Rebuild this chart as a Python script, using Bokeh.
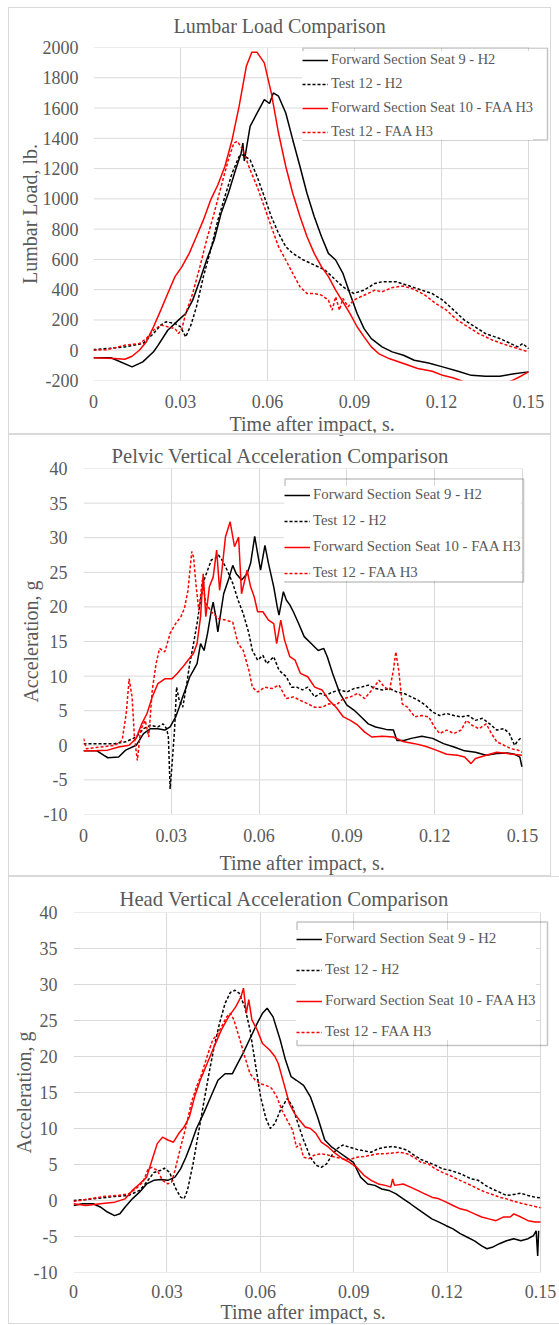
from bokeh.plotting import figure
from bokeh.models import Range1d, FixedTicker, Legend, LegendItem, Title, Div, BoxAnnotation
from bokeh.layouts import column
from bokeh.embed import file_html
from bokeh.resources import INLINE

FONT = "Liberation Serif"
TXT = "#595959"
GRID = "#d9d9d9"

# ---------------- data ----------------
series_names = ["Forward Section Seat 9 - H2", "Test 12 - H2",
                "Forward Section Seat 10 - FAA H3", "Test 12 - FAA H3"]
series_colors = ["#000000", "#000000", "#ff0000", "#ff0000"]
series_dash = ["solid", "3 2", "solid", "3 2"]

x_ticks = [0, 0.03, 0.06, 0.09, 0.12, 0.15]
x_tick_labels = ["0", "0.03", "0.06", "0.09", "0.12", "0.15"]
lumbar_ticks = [-200, 0, 200, 400, 600, 800, 1000, 1200, 1400, 1600, 1800, 2000]
accel_ticks = [-10, -5, 0, 5, 10, 15, 20, 25, 30, 35, 40]

# Lumbar load (lb.)
lumbar_fs9_h2 = [(0, -50), (0.006, -50), (0.0133, -110), (0.017, -77), (0.0207, -10), (0.0222, 30),
    (0.0256, 132), (0.0293, 199), (0.0318, 243), (0.0342, 331), (0.0367, 464), (0.039, 596),
    (0.0416, 728), (0.044, 905), (0.0465, 1037), (0.049, 1192), (0.0509, 1302), (0.0515, 1369),
    (0.052, 1250), (0.054, 1479), (0.0564, 1567), (0.0589, 1656), (0.0607, 1630), (0.062, 1700),
    (0.0638, 1678), (0.0663, 1567), (0.0687, 1391), (0.0712, 1214), (0.0736, 1037), (0.0761, 883),
    (0.0786, 751), (0.081, 640), (0.0835, 596), (0.086, 508), (0.0884, 375), (0.0909, 243),
    (0.0933, 143), (0.0958, 77), (0.0995, 22), (0.103, -11), (0.1069, -33), (0.1106, -66),
    (0.1155, -84), (0.1204, -110), (0.1254, -137), (0.1303, -166), (0.1352, -172), (0.1401, -172),
    (0.1451, -155), (0.15, -143)]
lumbar_t12_h2 = [(0, 4), (0.0047, 11), (0.0108, 22), (0.017, 44), (0.0207, 110), (0.0232, 166),
    (0.025, 188), (0.028, 177), (0.03, 155), (0.0318, 88), (0.0336, 166), (0.0355, 287),
    (0.0379, 486), (0.0404, 662), (0.0429, 861), (0.0453, 1015), (0.0478, 1170), (0.0502, 1280),
    (0.0515, 1291), (0.054, 1258), (0.0564, 1148), (0.0589, 1015), (0.0613, 883), (0.0638, 773),
    (0.0663, 684), (0.0687, 640), (0.0724, 596), (0.0761, 563), (0.0798, 530), (0.0835, 464),
    (0.086, 419), (0.0897, 375), (0.0933, 397), (0.097, 441), (0.0995, 452), (0.1044, 452),
    (0.1081, 430), (0.1131, 397), (0.1167, 375), (0.1204, 331), (0.1242, 265), (0.1279, 199),
    (0.1315, 155), (0.1352, 110), (0.1401, 77), (0.1438, 44), (0.1463, 22), (0.148, 44), (0.15, 11)]
lumbar_fs10_h3 = [(0, -50), (0.0071, -55), (0.0108, -60), (0.0133, -40), (0.0158, 0), (0.0182, 55),
    (0.0207, 155), (0.0232, 265), (0.0256, 375), (0.0281, 486), (0.0305, 552), (0.033, 640),
    (0.0355, 751), (0.0379, 861), (0.0404, 993), (0.0429, 1093), (0.0453, 1214), (0.0478, 1391),
    (0.0502, 1611), (0.0527, 1876), (0.0546, 1968), (0.0564, 1968), (0.0589, 1898), (0.0613, 1700),
    (0.0638, 1435), (0.0663, 1214), (0.0687, 1037), (0.0712, 883), (0.0736, 751), (0.0761, 640),
    (0.0786, 552), (0.081, 486), (0.0835, 397), (0.086, 320), (0.0884, 243), (0.0909, 155),
    (0.0933, 88), (0.0958, 22), (0.0983, -22), (0.1019, -55), (0.1069, -88), (0.1118, -121),
    (0.1168, -139), (0.1204, -166), (0.1242, -183), (0.1279, -210), (0.132, -230), (0.136, -245),
    (0.14, -235), (0.1445, -199), (0.1475, -170), (0.15, -143)]
lumbar_t12_h3 = [(0, 0), (0.0047, 4), (0.0108, 33), (0.0158, 44), (0.0182, 77), (0.0207, 132),
    (0.0232, 166), (0.0256, 155), (0.0281, 143), (0.0293, 110), (0.0305, 143), (0.0318, 243),
    (0.0342, 375), (0.0367, 552), (0.039, 728), (0.0416, 905), (0.044, 1082), (0.0465, 1258),
    (0.0484, 1369), (0.0496, 1380), (0.0515, 1324), (0.054, 1192), (0.0564, 1082), (0.0589, 949),
    (0.0613, 817), (0.0638, 684), (0.0663, 596), (0.0687, 508), (0.0712, 419), (0.0736, 375),
    (0.0761, 375), (0.0786, 364), (0.081, 331), (0.0823, 265), (0.0835, 353), (0.0848, 265),
    (0.086, 342), (0.0878, 287), (0.0897, 331), (0.0921, 353), (0.0946, 375), (0.097, 397),
    (0.0995, 386), (0.1032, 415), (0.1069, 424), (0.1106, 402), (0.1143, 364), (0.118, 309),
    (0.1217, 265), (0.1254, 199), (0.1291, 155), (0.1328, 110), (0.1377, 66), (0.1426, 33),
    (0.1463, 11), (0.15, -11)]

# Pelvic vertical acceleration (g)
pelvic_fs9_h2 = [(0, -0.8), (0.0046, -0.8), (0.007, -1.45), (0.0083, -1.8), (0.012, -1.7),
    (0.0144, -0.7), (0.018, 0), (0.0205, 1.7), (0.0229, 2.4), (0.0254, 2.4), (0.0278, 2.2),
    (0.0296, 2.65), (0.0315, 4.1), (0.0327, 5.5), (0.0339, 7.0), (0.0351, 8.4), (0.0363, 9.9),
    (0.0376, 10.85), (0.0388, 11.8), (0.04, 14.7), (0.0412, 13.7), (0.0424, 16.2), (0.0437, 19.5),
    (0.0443, 20.7), (0.0452, 18.6), (0.0459, 16.4), (0.0467, 18.6), (0.0479, 21.9), (0.0498, 24.3),
    (0.051, 26.0), (0.0522, 24.8), (0.054, 23.9), (0.0559, 24.8), (0.0571, 26.3), (0.0585, 30.2),
    (0.0595, 27.7), (0.0605, 25.3), (0.062, 28.9), (0.0632, 26.3), (0.065, 22.9), (0.0662, 20.0),
    (0.0668, 18.8), (0.0683, 22.2), (0.0693, 21.0), (0.0705, 20.3), (0.0717, 19.3), (0.0735, 17.6),
    (0.0754, 15.7), (0.0778, 14.7), (0.0802, 13.7), (0.0821, 14.0), (0.0833, 12.8), (0.0851, 10.4),
    (0.0876, 7.5), (0.09, 5.8), (0.0924, 5.1), (0.0949, 4.1), (0.0973, 3.1), (0.0998, 2.65),
    (0.1034, 2.3), (0.1059, 2.2), (0.1071, 0.7), (0.1095, 0.7), (0.112, 1.0), (0.1156, 1.3),
    (0.1193, 1.0), (0.123, 0.24), (0.1266, -0.24), (0.1302, -0.8), (0.1339, -1.0), (0.1376, -1.45),
    (0.1412, -1.2), (0.1449, -1.1), (0.1473, -1.3), (0.1491, -1.7), (0.1498, -3.1)]
pelvic_t12_h2 = [(0, 0.24), (0.0059, 0.24), (0.0107, 0.24), (0.0144, 0.5), (0.018, 1.2),
    (0.0205, 2.4), (0.0229, 2.9), (0.0254, 2.65), (0.0272, 3.1), (0.0284, 2.4), (0.029, 1.2),
    (0.0296, -6.3), (0.0302, -3.1), (0.0311, 2.2), (0.0318, 8.4), (0.0327, 6.5), (0.0339, 5.5),
    (0.0351, 8.4), (0.0363, 11.8), (0.0376, 14.7), (0.0388, 17.6), (0.04, 21.0), (0.0412, 23.9),
    (0.0424, 25.3), (0.0437, 26.8), (0.0449, 27.0), (0.0461, 27.5), (0.0473, 26.8), (0.0491, 25.3),
    (0.051, 23.4), (0.0528, 21.0), (0.0546, 19.0), (0.0565, 16.2), (0.0577, 13.7), (0.0595, 12.3),
    (0.0613, 13.0), (0.0626, 11.8), (0.065, 12.8), (0.0668, 10.85), (0.0693, 9.9), (0.0711, 8.4),
    (0.0729, 8.4), (0.0748, 8.0), (0.0766, 8.4), (0.079, 7.0), (0.0809, 7.5), (0.0827, 7.2),
    (0.0851, 7.7), (0.0876, 8.0), (0.09, 7.7), (0.0924, 8.2), (0.0949, 8.4), (0.0973, 8.7),
    (0.0998, 8.2), (0.1022, 8.0), (0.1046, 8.2), (0.1071, 7.7), (0.1095, 7.5), (0.112, 7.0),
    (0.1144, 6.5), (0.1168, 5.8), (0.1193, 4.8), (0.1217, 4.3), (0.1241, 4.6), (0.1266, 4.3),
    (0.129, 4.1), (0.1315, 4.3), (0.1339, 3.6), (0.1363, 3.9), (0.1388, 3.1), (0.1412, 2.2),
    (0.1437, 2.4), (0.1455, 1.7), (0.1473, 0), (0.1485, 0.7), (0.1498, 1.2)]
pelvic_fs10_h3 = [(0, -0.8), (0.0034, -0.8), (0.0083, -0.7), (0.012, -0.24), (0.0156, 0),
    (0.018, 1.0), (0.0199, 3.1), (0.0217, 4.6), (0.0235, 7.0), (0.0254, 8.9), (0.0278, 9.6),
    (0.0302, 9.6), (0.0321, 10.4), (0.0339, 11.3), (0.0357, 12.3), (0.0376, 13.3), (0.0388, 14.7),
    (0.04, 18.6), (0.0409, 24.8), (0.0418, 18.6), (0.043, 22.9), (0.0443, 24.3), (0.0455, 28.2),
    (0.0465, 22.4), (0.0473, 25.3), (0.0485, 30.1), (0.0501, 32.3), (0.0516, 28.7), (0.053, 30.1),
    (0.054, 21.9), (0.0559, 25.3), (0.0571, 22.9), (0.0583, 21.5), (0.0595, 19.3), (0.0613, 19.3),
    (0.0632, 18.1), (0.065, 17.6), (0.066, 14.7), (0.0674, 18.1), (0.0687, 15.2), (0.0705, 12.8),
    (0.0723, 12.3), (0.0741, 10.4), (0.0766, 9.9), (0.079, 8.4), (0.0815, 8.0), (0.0839, 6.5),
    (0.0863, 5.5), (0.0888, 4.1), (0.0912, 3.6), (0.0937, 2.9), (0.0961, 1.9), (0.0985, 1.2),
    (0.1022, 1.3), (0.1059, 1.2), (0.1095, 0.5), (0.1132, 0.24), (0.1168, -0.14), (0.1205, -0.7),
    (0.1241, -1.3), (0.1278, -1.45), (0.1302, -1.7), (0.1324, -2.65), (0.1339, -1.9),
    (0.1376, -1.45), (0.1412, -1.0), (0.1449, -1.2), (0.1498, -1.45)]
pelvic_t12_h3 = [(0, 1.0), (0.001, -0.5), (0.0059, -0.24), (0.0107, 0), (0.0132, 0.7),
    (0.0146, 4.6), (0.0156, 9.6), (0.0166, 7.0), (0.0174, 1.2), (0.0184, -2.2), (0.0195, 2.2),
    (0.0211, 3.6), (0.0223, 1.2), (0.0235, 8.0), (0.0248, 11.8), (0.026, 14.0), (0.0278, 13.5),
    (0.0296, 16.2), (0.0315, 17.6), (0.0333, 18.6), (0.0345, 19.8), (0.0357, 22.4), (0.037, 28.0),
    (0.0376, 27.2), (0.0385, 22.9), (0.0394, 19.5), (0.0406, 23.9), (0.0418, 20.5), (0.0437, 19.3),
    (0.0461, 18.3), (0.0485, 18.1), (0.051, 17.8), (0.0528, 14.7), (0.0546, 13.7), (0.0565, 10.85),
    (0.0577, 8.4), (0.0595, 7.7), (0.062, 8.4), (0.0644, 8.2), (0.0668, 8.7), (0.0693, 6.75),
    (0.0717, 7.0), (0.0741, 6.5), (0.0766, 6.0), (0.079, 5.5), (0.0815, 5.5), (0.0839, 6.0),
    (0.0863, 5.8), (0.0888, 6.75), (0.0912, 7.0), (0.0937, 7.5), (0.0961, 6.75), (0.0985, 8.0),
    (0.101, 9.4), (0.1028, 8.4), (0.1046, 8.0), (0.1059, 10.85), (0.1067, 13.5), (0.1077, 10.85),
    (0.1089, 6.0), (0.1107, 5.5), (0.1132, 4.1), (0.1156, 4.3), (0.118, 4.1), (0.1199, 2.65),
    (0.1217, 1.7), (0.1241, 2.2), (0.1266, 1.7), (0.129, 2.2), (0.1309, 3.6), (0.1327, 2.9),
    (0.1351, 2.4), (0.1376, 3.1), (0.1394, 1.7), (0.1412, 0.5), (0.1437, 0), (0.1461, -0.5),
    (0.1485, -0.7), (0.1498, -1.0)]

# Head vertical acceleration (g)
head_fs9_h2 = [(0, -0.7), (0.0029, -0.45), (0.0063, -0.45), (0.0086, -0.9), (0.0109, -1.6),
    (0.0132, -2.1), (0.0149, -1.85), (0.0166, -0.9), (0.0189, 0.23), (0.0212, 1.16), (0.0235, 2.3),
    (0.0258, 2.8), (0.0281, 2.9), (0.0303, 2.8), (0.0326, 3.25), (0.0344, 4.4), (0.0361, 6.0),
    (0.0378, 7.9), (0.0395, 10.0), (0.0418, 12.1), (0.0441, 14.4), (0.0464, 16.7), (0.0487, 17.6),
    (0.051, 17.6), (0.0527, 19.0), (0.0544, 20.4), (0.0567, 22.5), (0.059, 24.6), (0.0607, 26.0),
    (0.0622, 26.7), (0.0641, 25.5), (0.0664, 22.3), (0.0681, 19.5), (0.0699, 17.2), (0.0716, 16.7),
    (0.0739, 16.0), (0.0761, 14.4), (0.0784, 11.6), (0.0807, 8.4), (0.083, 7.4), (0.0853, 6.7),
    (0.0876, 6.0), (0.0899, 5.3), (0.0922, 3.25), (0.0945, 2.3), (0.0968, 2.1), (0.099, 1.6),
    (0.1013, 1.4), (0.1036, 0.93), (0.1059, 0.23), (0.1082, -0.45), (0.1105, -1.16), (0.1128, -1.85),
    (0.1151, -2.55), (0.1174, -3.0), (0.1197, -3.5), (0.1219, -3.95), (0.1242, -4.6), (0.1265, -5.1),
    (0.1288, -5.6), (0.1311, -6.3), (0.1328, -6.7), (0.1345, -6.5), (0.1368, -6.0), (0.1391, -5.6),
    (0.1414, -5.3), (0.1437, -5.6), (0.146, -5.3), (0.1477, -4.9), (0.1486, -4.2), (0.1491, -7.7),
    (0.1494, -4.2)]
head_t12_h2 = [(0, 0), (0.0063, 0.23), (0.0132, 0.56), (0.0177, 0.7), (0.0212, 1.4), (0.0235, 2.55),
    (0.0258, 3.9), (0.0281, 4.2), (0.0292, 4.5), (0.0309, 3.9), (0.0326, 1.86), (0.0344, 0.46),
    (0.0355, 0.23), (0.0366, 1.4), (0.0384, 5.1), (0.0401, 9.3), (0.0418, 13.5), (0.0435, 17.6),
    (0.0452, 21.4), (0.0469, 24.6), (0.0487, 27.4), (0.0504, 28.9), (0.0519, 29.2), (0.0532, 28.8),
    (0.055, 26.9), (0.0567, 23.7), (0.0584, 19.0), (0.0601, 14.4), (0.0618, 11.4), (0.0632, 10.0),
    (0.0647, 10.7), (0.0664, 12.5), (0.0687, 14.2), (0.0704, 13.0), (0.0721, 10.7), (0.0739, 8.4),
    (0.0761, 6.0), (0.0779, 4.9), (0.0796, 4.6), (0.0813, 5.1), (0.083, 6.3), (0.0847, 7.2),
    (0.0865, 7.7), (0.0887, 7.4), (0.091, 7.1), (0.0933, 6.9), (0.0956, 6.7), (0.0979, 7.2),
    (0.1002, 7.4), (0.1025, 7.5), (0.1048, 7.3), (0.1071, 7.0), (0.1094, 6.3), (0.1116, 5.7),
    (0.1139, 5.3), (0.1162, 4.9), (0.1185, 4.4), (0.1208, 4.2), (0.1231, 3.9), (0.1254, 3.5),
    (0.1277, 3.0), (0.13, 2.8), (0.1323, 2.1), (0.1345, 1.6), (0.1368, 1.16), (0.1391, 0.7),
    (0.1414, 0.84), (0.1437, 1.0), (0.146, 0.7), (0.1483, 0.46), (0.15, 0.37)]
head_fs10_h3 = [(0, -0.45), (0.004, -0.7), (0.0086, -0.45), (0.0132, -0.23), (0.0166, 0.23),
    (0.0189, 1.4), (0.0212, 2.3), (0.0235, 3.25), (0.0252, 5.6), (0.0269, 7.9), (0.0286, 8.8),
    (0.0303, 8.4), (0.0321, 8.1), (0.0338, 9.3), (0.0355, 10.2), (0.0372, 11.6), (0.0389, 14.4),
    (0.0407, 16.7), (0.0429, 19.0), (0.0452, 21.4), (0.0475, 23.7), (0.0498, 25.5), (0.0521, 26.9),
    (0.0538, 28.3), (0.0546, 29.5), (0.0555, 26.0), (0.0563, 27.9), (0.0573, 25.1), (0.059, 23.7),
    (0.0607, 21.8), (0.063, 20.9), (0.0647, 20.0), (0.0658, 19.0), (0.0676, 16.2), (0.0693, 13.5),
    (0.071, 12.1), (0.0727, 11.1), (0.0744, 10.2), (0.0761, 10.0), (0.0779, 9.3), (0.0796, 8.1),
    (0.0819, 7.4), (0.0842, 6.5), (0.0865, 5.8), (0.0887, 5.3), (0.091, 4.6), (0.0933, 3.5),
    (0.0956, 2.8), (0.0979, 2.3), (0.1002, 2.1), (0.1019, 1.86), (0.1025, 3.0), (0.1031, 2.1),
    (0.1059, 2.3), (0.1082, 1.86), (0.1105, 1.4), (0.1128, 0.93), (0.1151, 0.46), (0.1174, 0.23),
    (0.1197, -0.23), (0.1219, -0.7), (0.1242, -1.16), (0.1265, -1.4), (0.1288, -1.86), (0.1311, -2.3),
    (0.1334, -2.55), (0.1357, -2.8), (0.138, -2.3), (0.1403, -2.3), (0.1414, -1.86), (0.1437, -2.3),
    (0.146, -2.8), (0.1483, -3.0), (0.15, -3.0)]
head_t12_h3 = [(0, -0.14), (0.0052, 0.23), (0.0097, 0.56), (0.0143, 0.7), (0.0177, 0.93), (0.02, 1.6),
    (0.0223, 2.55), (0.024, 4.4), (0.0252, 4.6), (0.0269, 4.2), (0.0286, 2.8), (0.0303, 2.3),
    (0.0315, 2.55), (0.0326, 4.2), (0.0344, 7.4), (0.0361, 10.2), (0.0378, 13.5), (0.0395, 15.8),
    (0.0412, 17.6), (0.0429, 20.0), (0.0447, 22.3), (0.0464, 23.2), (0.0475, 24.1), (0.0492, 25.5),
    (0.0504, 26.0), (0.0515, 25.1), (0.0532, 22.7), (0.055, 20.0), (0.0567, 17.6), (0.0584, 16.7),
    (0.0601, 16.2), (0.0618, 16.0), (0.0636, 15.6), (0.0653, 14.4), (0.067, 12.5), (0.0687, 11.1),
    (0.0704, 9.75), (0.0716, 7.4), (0.0727, 7.9), (0.0739, 6.0), (0.0756, 5.8), (0.0773, 6.3),
    (0.0796, 6.5), (0.0819, 6.3), (0.0842, 6.0), (0.0865, 5.8), (0.0887, 5.7), (0.091, 6.0),
    (0.0933, 6.1), (0.0956, 6.3), (0.0979, 6.5), (0.1002, 6.5), (0.1025, 6.6), (0.1048, 6.7),
    (0.1071, 6.5), (0.1094, 6.0), (0.1116, 5.3), (0.1139, 5.1), (0.1162, 4.4), (0.1185, 3.9),
    (0.1208, 3.5), (0.1231, 3.0), (0.1254, 2.55), (0.1277, 2.1), (0.13, 1.6), (0.1323, 1.16),
    (0.1345, 0.84), (0.1368, 0.46), (0.1391, 0.23), (0.1414, -0.1), (0.1437, -0.37), (0.146, -0.6),
    (0.1483, -0.84), (0.15, -1.0)]


def make_panel(title, ylabel, yticks, series, cfg):
    p = figure(width=559, height=cfg["height"], output_backend="svg", toolbar_location=None,
               x_range=Range1d(0, cfg["xend"]), y_range=Range1d(yticks[0], yticks[-1]),
               min_border_left=cfg["bl"], min_border_right=cfg["br"],
               min_border_top=cfg["bt"], min_border_bottom=cfg["bb"])
    p.frame_align = False
    p.background_fill_color = "white"
    p.border_fill_color = "white"
    p.outline_line_color = None

    p.title.text = title
    p.title.text_font = FONT
    p.title.text_font_size = cfg["tfs"]
    p.title.text_font_style = "normal"
    p.title.text_color = TXT
    p.title.align = "left"
    p.title.offset = cfg["toff"]
    p.title.standoff = cfg["tstand"]

    p.xaxis.ticker = FixedTicker(ticks=x_ticks)
    p.xaxis.major_label_overrides = {t: s for t, s in zip(x_ticks, x_tick_labels)}
    p.yaxis.ticker = FixedTicker(ticks=yticks)
    p.yaxis.major_label_overrides = {t: str(t) for t in yticks}
    p.xgrid.ticker = FixedTicker(ticks=x_ticks)
    p.xgrid.grid_line_color = GRID
    p.xgrid.grid_line_width = 1
    p.ygrid.visible = False
    # horizontal gridlines limited to the plot area (0 .. 0.15)
    p.segment(x0=[x_ticks[0]] * len(yticks), y0=yticks, x1=[x_ticks[-1]] * len(yticks), y1=yticks,
              line_color=GRID, line_width=1)

    p.yaxis.axis_label = ylabel
    for ax in (p.xaxis, p.yaxis):
        ax.axis_line_color = None
        ax.major_tick_line_color = None
        ax.minor_tick_line_color = None
        ax.major_tick_out = 0
        ax.major_tick_in = 0
        ax.major_label_text_font = FONT
        ax.major_label_text_font_size = "18px"
        ax.major_label_text_color = TXT
        ax.axis_label_text_font = FONT
        ax.axis_label_text_font_size = "20px"
        ax.axis_label_text_font_style = "normal"
        ax.axis_label_text_color = TXT
    p.xaxis.major_label_standoff = cfg["xls"]
    p.yaxis.major_label_standoff = cfg["yls"]
    p.yaxis.axis_label_standoff = cfg["yas"]

    xt = Title(text="Time after impact, s.", text_font=FONT, text_font_size="20px",
               text_font_style="normal", text_color=TXT, align="left",
               offset=cfg["xtoff"], standoff=cfg["xtstand"])
    p.add_layout(xt, "below")

    items = []
    for name, pts, col, dash in zip(series_names, series, series_colors, series_dash):
        xs = [a for a, b in pts]
        ys = [b for a, b in pts]
        r = p.line(xs, ys, line_color=col, line_width=1.5, line_dash=dash)
        items.append(LegendItem(label=name, renderers=[r]))

    leg = Legend(items=items, location=cfg["lloc"], orientation="vertical",
                 border_line_color=None,
                 background_fill_color="white", background_fill_alpha=1.0,
                 label_text_font=FONT, label_text_font_size=cfg["lfs"], label_text_color=TXT,
                 glyph_width=26, glyph_height=16, label_height=16, label_standoff=3,
                 padding=cfg["lpad"], spacing=cfg["lsp"], margin=0)
    p.add_layout(leg, "center")

    # legend frame (canvas pixels)
    l, t, r_, b = cfg["lbox"]
    p.add_layout(BoxAnnotation(left=l, right=r_, top=t, bottom=b,
                               left_units="canvas", right_units="canvas",
                               top_units="canvas", bottom_units="canvas",
                               fill_color=None, fill_alpha=0,
                               line_color="#404040", line_width=1.5))
    return p


H1, H2, H3 = 438, 444, 443
cfg1 = dict(height=H1, bl=93, br=7, bt=47, bb=58, xend=0.15 * 459 / 435,
            tfs="20px", toff=80, tstand=22,
            xls=14, xtoff=136, xtstand=0, yls=15, yas=-1,
            lloc=(209, 240), lpad=4, lsp=7, lfs="14.4px",
            lbox=(302.5, 47.5, 547, 139.5))
cfg2 = dict(height=H2, bl=83, br=7, bt=30, bb=68, xend=0.15 * 469 / 439,
            tfs="20.7px", toff=28, tstand=4,
            xls=14, xtoff=136, xtstand=10, yls=16, yas=-1,
            lloc=(201, 233), lpad=5, lsp=9, lfs="14.8px",
            lbox=(284.5, 478.5 - H1, 523, 581.5 - H1))
cfg3 = dict(height=H3, bl=73, br=3, bt=30, bb=53, xend=0.15 * 483 / 467,
            tfs="20.7px", toff=46, tstand=4.5,
            xls=12, xtoff=147, xtstand=-3, yls=16, yas=-4,
            lloc=(223, 232), lpad=8, lsp=14, lfs="15px",
            lbox=(296.5, 921.5 - H1 - H2, 547, 1045 - H1 - H2))

p1 = make_panel("Lumbar Load Comparison", "Lumbar Load, lb.", lumbar_ticks,
                [lumbar_fs9_h2, lumbar_t12_h2, lumbar_fs10_h3, lumbar_t12_h3], cfg1)
p2 = make_panel("Pelvic Vertical Acceleration Comparison", "Acceleration, g", accel_ticks,
                [pelvic_fs9_h2, pelvic_t12_h2, pelvic_fs10_h3, pelvic_t12_h3], cfg2)
p3 = make_panel("Head Vertical Acceleration Comparison", "Acceleration, g", accel_ticks,
                [head_fs9_h2, head_t12_h2, head_fs10_h3, head_t12_h3], cfg3)

# light grey chart-area borders (page pixel boxes: left, top, width, height, border widths)
panel_boxes = [(8, 7, 543, 427, "1px"), (8, 434, 543, 442, "1px"), (8, 876, 551, 448, "1px 0 1px 1px")]
box_html = "".join(
    '<div style="position:absolute;left:%dpx;top:%dpx;width:%dpx;height:%dpx;'
    'border-style:solid;border-color:%s;border-width:%s;box-sizing:border-box;'
    'pointer-events:none;z-index:10;"></div>' % (l, t, w, h, GRID, bw)
    for l, t, w, h, bw in panel_boxes)
overlay = Div(text=box_html, width=559, height=0, margin=0,
              styles={"position": "relative", "z-index": "10", "overflow": "visible"})

layout = column(overlay, p1, p2, p3, spacing=0)
open("out.html", "w").write(file_html(layout, INLINE))
